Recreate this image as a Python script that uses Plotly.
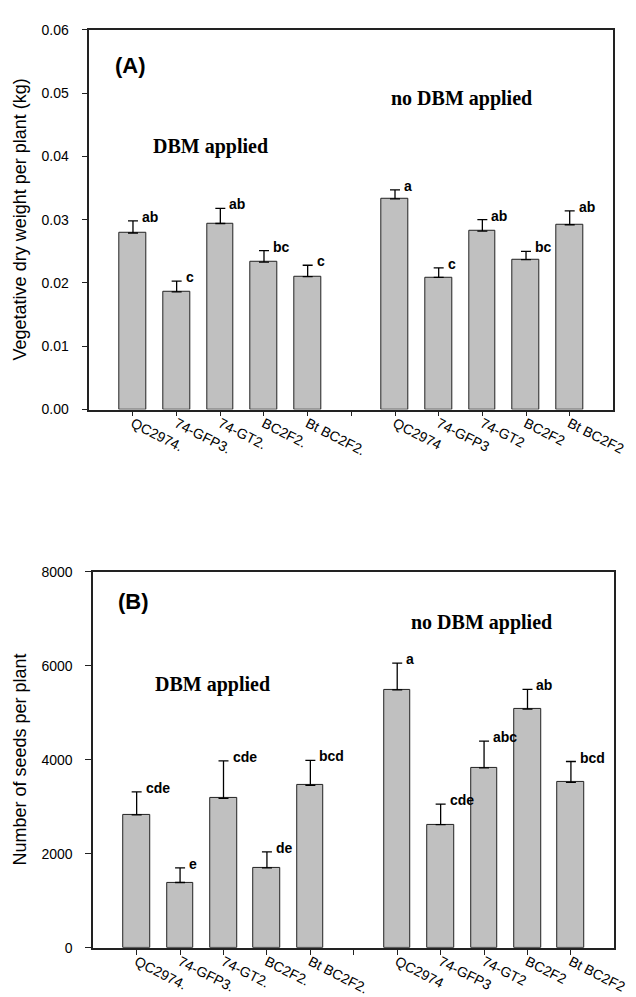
import plotly.graph_objects as go

# ---------------- data ----------------
labels_dbm = ["QC2974.", "74-GFP3.", "74-GT2.", "BC2F2.", "Bt BC2F2."]
labels_nodbm = ["QC2974", "74-GFP3", "74-GT2", "BC2F2", "Bt BC2F2"]

# Panel A: vegetative dry weight per plant (kg)
dw_dbm = [0.0279, 0.0186, 0.0294, 0.0233, 0.0210]
dw_dbm_se = [0.0019, 0.0017, 0.0024, 0.0018, 0.0018]
dw_dbm_let = ["ab", "c", "ab", "bc", "c"]
dw_nodbm = [0.0333, 0.0209, 0.0282, 0.0237, 0.0292]
dw_nodbm_se = [0.0014, 0.0015, 0.0018, 0.0013, 0.0022]
dw_nodbm_let = ["a", "c", "ab", "bc", "ab"]

# Panel B: number of seeds per plant
sd_dbm = [2830, 1390, 3180, 1700, 3460]
sd_dbm_se = [490, 310, 800, 340, 530]
sd_dbm_let = ["cde", "e", "cde", "de", "bcd"]
sd_nodbm = [5490, 2620, 3830, 5080, 3520]
sd_nodbm_se = [570, 440, 570, 420, 445]
sd_nodbm_let = ["a", "cde", "abc", "ab", "bcd"]

yticks_a = [0.0, 0.01, 0.02, 0.03, 0.04, 0.05, 0.06]
yticks_b = [0, 2000, 4000, 6000, 8000]

# ---------------- layout helpers ----------------
W, H = 636, 997
pos_dbm = [0, 1, 2, 3, 4]
pos_nodbm = [6, 7, 8, 9, 10]
tickvals = list(range(11))
ticktext = labels_dbm + [""] + labels_nodbm

FILL = "#c0c0c0"
EDGE = "#222222"
SANS = "Arial, Liberation Sans, sans-serif"
SERIF = "Times New Roman, Liberation Serif, serif"

fig = go.Figure()


def add_bars(xs, ys, se, xa, ya):
    fig.add_trace(go.Bar(
        x=xs, y=ys, width=0.61, xaxis=xa, yaxis=ya,
        marker=dict(color=FILL, line=dict(color=EDGE, width=1)),
        error_y=dict(type="data", symmetric=False, array=se,
                     arrayminus=[0] * len(se), color="black",
                     thickness=1.3, width=5),
        showlegend=False, hoverinfo="skip",
    ))


add_bars(pos_dbm, dw_dbm, dw_dbm_se, "x", "y")
add_bars(pos_nodbm, dw_nodbm, dw_nodbm_se, "x", "y")
add_bars(pos_dbm, sd_dbm, sd_dbm_se, "x2", "y2")
add_bars(pos_nodbm, sd_nodbm, sd_nodbm_se, "x2", "y2")

annotations = []


def add_letters(xs, ys, se, lets, xr, yr):
    for xv, yv, s, t in zip(xs, ys, se, lets):
        annotations.append(dict(
            x=xv, y=yv + s, xref=xr, yref=yr, text=t, showarrow=False,
            xanchor="left", yanchor="middle", xshift=7, yshift=4,
            font=dict(family=SANS, size=14, color="black", weight="bold"),
        ))


add_letters(pos_dbm, dw_dbm, dw_dbm_se, dw_dbm_let, "x", "y")
add_letters(pos_nodbm, dw_nodbm, dw_nodbm_se, dw_nodbm_let, "x", "y")
add_letters(pos_dbm, sd_dbm, sd_dbm_se, sd_dbm_let, "x2", "y2")
add_letters(pos_nodbm, sd_nodbm, sd_nodbm_se, sd_nodbm_let, "x2", "y2")


def paper_text(text, px, py, family, size, angle=0, bold=True):
    annotations.append(dict(
        x=px / W, y=1 - py / H, xref="paper", yref="paper", text=text,
        showarrow=False, xanchor="center", yanchor="middle", textangle=angle,
        font=dict(family=family, size=size, color="black",
                  weight="bold" if bold else "normal"),
    ))


paper_text("(A)", 125, 50, SANS, 22)
paper_text("DBM applied", 207, 133, SERIF, 20)
paper_text("no DBM applied", 463, 84, SERIF, 20)
paper_text("(B)", 128, 595, SANS, 22)
paper_text("DBM applied", 209, 679, SERIF, 20)
paper_text("no DBM applied", 483, 616, SERIF, 20)
paper_text("Vegetative dry weight per plant (kg)", 12, 207, SANS, 18, -90, False)
paper_text("Number of seeds per plant", 12, 756, SANS, 18, -90, False)

xaxis_common = dict(
    range=[-1, 11], tickvals=tickvals, ticktext=ticktext, tickangle=27,
    ticks="outside", ticklen=5, tickwidth=1, tickcolor=EDGE,
    showline=True, linecolor=EDGE, linewidth=1.5, mirror=True,
    showgrid=False, zeroline=False, ticklabelstandoff=-6,
    tickfont=dict(family=SANS, size=14, color="black"),
)
yaxis_common = dict(
    ticks="outside", ticklen=6, tickwidth=1, tickcolor=EDGE,
    showline=True, linecolor=EDGE, linewidth=1.5, mirror=True,
    showgrid=False, zeroline=False, ticklabelstandoff=10,
    tickfont=dict(family=SANS, size=14, color="black"),
)

fig.update_layout(
    width=W, height=H, margin=dict(l=0, r=0, t=0, b=0),
    paper_bgcolor="white", plot_bgcolor="white", bargap=0,
    xaxis=dict(domain=[83 / W, 618 / W], anchor="y", **xaxis_common),
    yaxis=dict(domain=[1 - 400 / H, 1 - 14 / H], anchor="x", range=[0, 0.06],
               tickvals=yticks_a, tickformat=".2f", **yaxis_common),
    xaxis2=dict(domain=[87 / W, 619 / W], anchor="y2", **xaxis_common),
    yaxis2=dict(domain=[1 - 947 / H, 1 - 565 / H], anchor="x2", range=[0, 8000],
                tickvals=yticks_b, tickformat="d", **yaxis_common),
    annotations=annotations,
)

fig.write_html("out.html")
